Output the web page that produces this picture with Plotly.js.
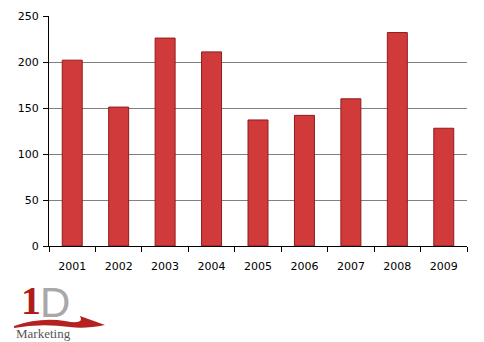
<!DOCTYPE html>
<html>
<head>
<meta charset="utf-8">
<script src="https://cdn.plot.ly/plotly-3.0.1.min.js"></script>
<style>html,body{margin:0;padding:0;background:#fff;}#chart{width:484px;height:342px;}</style>
</head>
<body>
<div id="chart"></div>
<script>
const years = ['2001','2002','2003','2004','2005','2006','2007','2008','2009'];
const values = [202, 151, 226, 211, 137, 142, 160, 232, 128];
const yTicks = [0, 50, 100, 150, 200, 250];

const trace = {
  type: 'bar',
  x: years,
  y: values,
  width: 0.43,
  marker: {color: '#d13a3a', line: {color: '#8e1c1c', width: 1}},
  hoverinfo: 'x+y'
};

const L = 49, R = 467, T = 16, B = 246;
const px = v => (v - L) / (R - L);
const py = v => (B - v) / (B - T);

const layout = {
  width: 484, height: 342,
  margin: {l: 49, r: 17, t: 16, b: 96},
  paper_bgcolor: '#ffffff', plot_bgcolor: '#ffffff',
  showlegend: false,
  font: {family: 'DejaVu Sans, Verdana, sans-serif', size: 11, color: '#000'},
  xaxis: {
    type: 'category',
    tickson: 'boundaries',
    ticks: 'outside', ticklen: 5, tickcolor: '#000', tickwidth: 1,
    showline: true, linecolor: '#000', linewidth: 1,
    showgrid: false,
    ticklabelstandoff: 10,
    tickfont: {size: 11}
  },
  yaxis: {
    range: [0, 250],
    tickvals: yTicks,
    ticks: 'outside', ticklen: 5, tickcolor: '#000',
    showline: true, linecolor: '#000', linewidth: 1,
    showgrid: true, gridcolor: '#808080', gridwidth: 1,
    zeroline: false,
    ticklabelstandoff: 2,
    tickfont: {size: 11}
  },
  shapes: [
    {type: 'path', xref: 'paper', yref: 'paper', layer: 'below',
     path: `M ${px(14)} ${py(326)} Q ${px(40)} ${py(317)} ${px(65)} ${py(321)} Q ${px(85)} ${py(325)} ${px(80)} ${py(316)} L ${px(105)} ${py(325)} Q ${px(85)} ${py(329)} ${px(70)} ${py(327)} Q ${px(40)} ${py(323)} ${px(14)} ${py(328)} Z`,
     fillcolor: '#b52020', line: {width: 0}}
  ],
  annotations: [
    {xref: 'paper', yref: 'paper', x: px(55), y: py(302), xanchor: 'center', yanchor: 'middle',
     text: 'D', showarrow: false, font: {family: 'Liberation Sans, sans-serif', size: 42, color: '#a8a8a8'}},
    {xref: 'paper', yref: 'paper', x: px(31), y: py(300), xanchor: 'center', yanchor: 'middle',
     text: '<b>1</b>', showarrow: false, font: {family: 'Liberation Serif, serif', size: 40, color: '#b01c1c'}},
    {xref: 'paper', yref: 'paper', x: px(14), y: py(333), xanchor: 'left', yanchor: 'middle',
     text: 'Marketing', showarrow: false, font: {family: 'Liberation Serif, serif', size: 13, color: '#555555'}}
  ]
};

Plotly.newPlot('chart', [trace], layout, {displayModeBar: false, staticPlot: true});
</script>
</body>
</html>
